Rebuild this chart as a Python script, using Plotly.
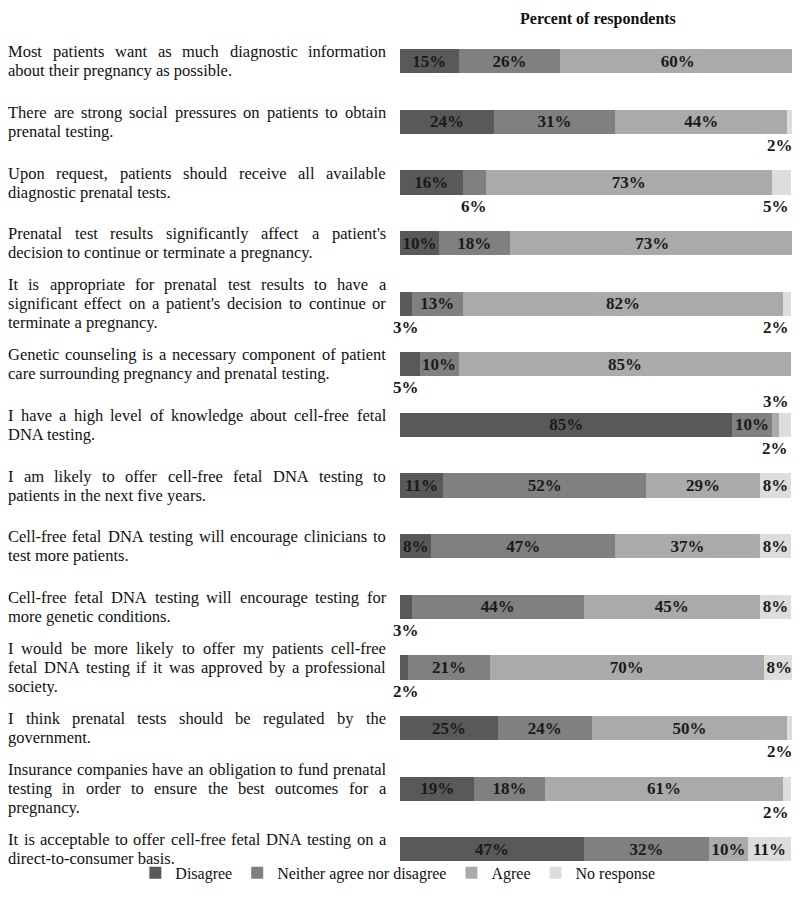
import plotly.graph_objects as go

# statement text, one entry per printed line
statements = [
    ["Most patients want as much diagnostic information",
     "about their pregnancy as possible."],
    ["There are strong social pressures on patients to obtain",
     "prenatal testing."],
    ["Upon request, patients should receive all available",
     "diagnostic prenatal tests."],
    ["Prenatal test results significantly affect a patient's",
     "decision to continue or terminate a pregnancy."],
    ["It is appropriate for prenatal test results to have a",
     "significant effect on a patient's decision to continue or",
     "terminate a pregnancy."],
    ["Genetic counseling is a necessary component of patient",
     "care surrounding pregnancy and prenatal testing."],
    ["I have a high level of knowledge about cell-free fetal",
     "DNA testing."],
    ["I am likely to offer cell-free fetal DNA testing to",
     "patients in the next five years."],
    ["Cell-free fetal DNA testing will encourage clinicians to",
     "test more patients."],
    ["Cell-free fetal DNA testing will encourage testing for",
     "more genetic conditions."],
    ["I would be more likely to offer my patients cell-free",
     "fetal DNA testing if it was approved by a professional",
     "society."],
    ["I think prenatal tests should be regulated by the",
     "government."],
    ["Insurance companies have an obligation to fund prenatal",
     "testing in order to ensure the best outcomes for a",
     "pregnancy."],
    ["It is acceptable to offer cell-free fetal DNA testing on a",
     "direct-to-consumer basis."],
]

categories = ["Disagree", "Neither agree nor disagree", "Agree", "No response"]
disagree = [15, 24, 16, 10, 3, 5, 85, 11, 8, 3, 2, 25, 19, 47]
neither = [26, 31, 6, 18, 13, 10, 10, 52, 47, 44, 21, 24, 18, 32]
agree = [60, 44, 73, 73, 82, 85, 2, 29, 37, 45, 70, 50, 61, 10]
no_response = [0, 2, 5, 0, 2, 0, 3, 8, 8, 8, 8, 2, 2, 11]

series = [disagree, neither, agree, no_response]
colors = ["#595959", "#808080", "#aaaaaa", "#dddddd"]

FONT = "Liberation Serif"
# the page body adds an 8px margin, so the figure is 8px smaller each way
WIDTH, HEIGHT = 792, 907
PLOT_LEFT = 392
TEXT_LEFT = -2
TEXT_RIGHT = 376
LABEL_SIZE = 16.5
VALUE_SIZE = 17
LINE_H = 19

# Times advance widths (per 1000 em) so the statements can be justified
TIMES = {" ": 250, "'": 180, ",": 250, "-": 333, ".": 250,
         "a": 444, "b": 500, "c": 444, "d": 500, "e": 444, "f": 333, "g": 500,
         "h": 500, "i": 278, "j": 278, "k": 500, "l": 278, "m": 778, "n": 500,
         "o": 500, "p": 500, "q": 500, "r": 333, "s": 389, "t": 278, "u": 500,
         "v": 500, "w": 722, "x": 500, "y": 500, "z": 444,
         "A": 722, "C": 667, "D": 722, "G": 722, "I": 333, "M": 889, "N": 722,
         "P": 556, "T": 611, "U": 722}


def text_width(s, size):
    return sum(TIMES.get(c, 500) for c in s) * size / 1000


rows = list(range(len(statements)))
value_font = dict(family=FONT, size=VALUE_SIZE, color="#1a1a1a", weight="bold")

fig = go.Figure()
for name, vals, col in zip(categories, series, colors):
    fig.add_trace(go.Bar(
        y=rows, x=vals, name=name, orientation="h", width=0.4,
        marker=dict(color=col, line_width=0),
        text=[f"{v}%" if v >= 8 else "" for v in vals],
        textposition="inside", insidetextanchor="middle",
        textfont=value_font,
        hoverinfo="skip",
    ))

# small segments get their label outside the bar
for i in rows:
    vals = [s[i] for s in series]
    starts = [sum(vals[:k]) for k in range(4)]
    last = max(k for k in range(4) if vals[k] > 0)
    prev_small = False
    for k, v in enumerate(vals):
        if v == 0 or v >= 8:
            prev_small = False
            continue
        if k == 0:
            x, anchor, shift = 0, "left", -9
        elif k == last:
            x, anchor, shift = starts[k] + v, "right", 0
        else:
            x, anchor, shift = starts[k] + v / 2, "center", 0
        above = prev_small
        fig.add_annotation(
            x=x, y=i - 0.2 if above else i + 0.2, xanchor=anchor, xshift=shift,
            yanchor="bottom" if above else "top", showarrow=False,
            text=f"{v}%", font=value_font,
        )
        prev_small = True

# statement labels, justified like the source
for i, lines in enumerate(statements):
    n = len(lines)
    for j, line in enumerate(lines):
        yshift = ((n - 1) / 2 - j) * LINE_H
        common = dict(xref="paper", x=0, xanchor="left", yref="y", y=i,
                      yanchor="middle", yshift=yshift, showarrow=False,
                      font=dict(family=FONT, size=LABEL_SIZE, color="#111111"))
        if j == n - 1:
            fig.add_annotation(text=line, xshift=TEXT_LEFT - PLOT_LEFT, **common)
            continue
        words = line.split(" ")
        widths = [text_width(w, LABEL_SIZE) for w in words]
        gap = (TEXT_RIGHT - TEXT_LEFT - sum(widths)) / (len(words) - 1)
        pos = TEXT_LEFT
        for w, wd in zip(words, widths):
            fig.add_annotation(text=w, xshift=pos - PLOT_LEFT, **common)
            pos += wd + gap

fig.add_annotation(
    xref="paper", yref="paper", x=0.5, y=1.0277, yanchor="top", showarrow=False,
    text="<b>Percent of respondents</b>", font=dict(family=FONT, size=16, color="#111111"),
)

fig.update_layout(
    width=WIDTH, height=HEIGHT,
    margin=dict(l=PLOT_LEFT, r=5, t=23, b=53, autoexpand=False),
    barmode="stack",
    paper_bgcolor="white", plot_bgcolor="white",
    uniformtext=dict(minsize=VALUE_SIZE, mode="show"),
    xaxis=dict(range=[0, 101], visible=False),
    yaxis=dict(range=[13.21, -0.5], visible=False),
    legend=dict(orientation="h", x=-0.67, xanchor="left", y=-0.0132, yanchor="middle",
                font=dict(family=FONT, size=16, color="#111111"),
                bgcolor="rgba(0,0,0,0)", traceorder="normal"),
    showlegend=True,
)

fig.write_html("out.html")
